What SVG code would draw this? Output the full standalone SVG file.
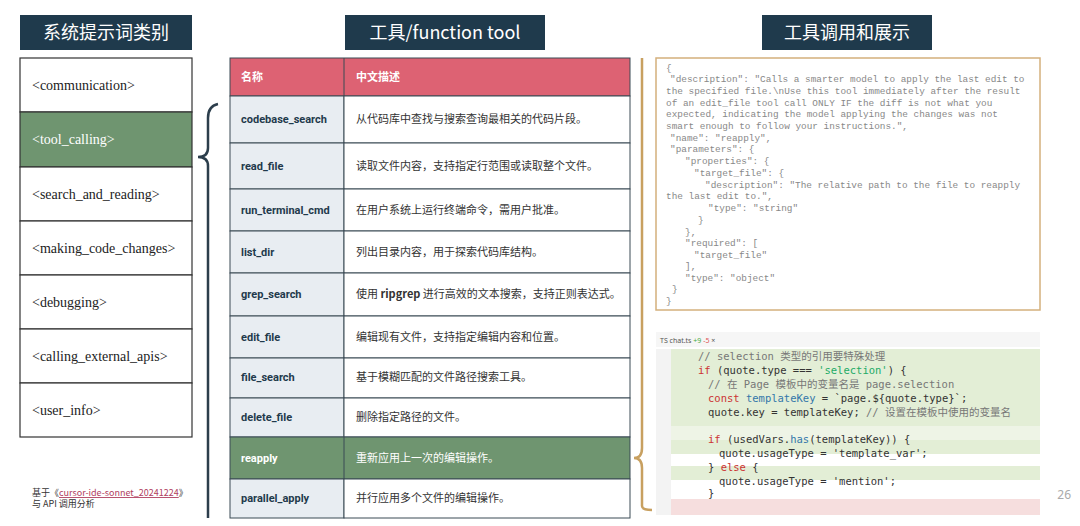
<svg xmlns="http://www.w3.org/2000/svg" width="1080" height="526" viewBox="0 0 1080 526">
<style>
.title{fill:#1f3a4c}
.tt{font-family:"Noto Sans CJK SC","Noto Sans",sans-serif;font-size:18px;fill:#fff;text-anchor:middle}
.cat{fill:#fff;stroke:#333;stroke-width:1.2}
.ct{font-family:"Liberation Serif",serif;font-size:14px;fill:#222}
.nm{font-family:Roboto,"Noto Sans",sans-serif;font-weight:bold;font-size:11px;fill:#1f3a4c}
.ds{font-family:"Noto Sans CJK SC",sans-serif;font-size:11px;fill:#333}
.c1{fill:#e8edf2;stroke:#3a4a55;stroke-width:1}
.c2{fill:#fff;stroke:#3a4a55;stroke-width:1}
.js{font-family:"Liberation Mono",monospace;font-size:9.4px;fill:#888}
.cd{font-family:"DejaVu Sans Mono","Noto Sans CJK SC",monospace;font-size:10.5px;fill:#333}
</style>
<rect width="1080" height="526" fill="#fff"/>
<g id="titles">
<rect class="title" x="20" y="15" width="172" height="35"/><text class="tt" x="106" y="39">系统提示词类别</text>
<rect class="title" x="345" y="15" width="200" height="35"/><text class="tt" x="445" y="39" font-family="Noto Sans">工具/function tool</text>
<rect class="title" x="762" y="15" width="170" height="35"/><text class="tt" x="847" y="39">工具调用和展示</text>
</g>
<g id="categories">
<rect class="cat" x="20" y="58" width="172" height="54"/><text class="ct" x="32" y="90">&lt;communication&gt;</text>
<rect x="20" y="112" width="172" height="55" fill="#6f9570" stroke="#333" stroke-width="1.2"/><text class="ct" x="32" y="144" style="fill:#fff">&lt;tool_calling&gt;</text>
<rect class="cat" x="20" y="167" width="172" height="54"/><text class="ct" x="32" y="199">&lt;search_and_reading&gt;</text>
<rect class="cat" x="20" y="221" width="172" height="54"/><text class="ct" x="32" y="253">&lt;making_code_changes&gt;</text>
<rect class="cat" x="20" y="275" width="172" height="54"/><text class="ct" x="32" y="307">&lt;debugging&gt;</text>
<rect class="cat" x="20" y="329" width="172" height="54"/><text class="ct" x="32" y="361">&lt;calling_external_apis&gt;</text>
<rect class="cat" x="20" y="383" width="172" height="54"/><text class="ct" x="32" y="415">&lt;user_info&gt;</text>
</g>
<g id="note" font-family="Noto Sans CJK SC,sans-serif" font-size="9px" fill="#333">
<text x="32" y="496">基于《<tspan fill="#b04060" text-decoration="underline">cursor-ide-sonnet_20241224</tspan>》</text>
<text x="32" y="507">与 API 调用分析</text>
</g>
<g id="table">
<rect x="230" y="58" width="400" height="38" fill="#dd6273" stroke="#3a4a55"/>
<line x1="344" y1="58" x2="344" y2="96" stroke="#3a4a55"/>
<text x="241" y="81" font-family="Noto Sans CJK SC,sans-serif" font-size="11px" font-weight="bold" fill="#fff">名称</text>
<text x="356" y="81" font-family="Noto Sans CJK SC,sans-serif" font-size="11px" font-weight="bold" fill="#fff">中文描述</text>
<rect class="c1" x="230" y="96" width="114" height="47"/><rect class="c2" x="344" y="96" width="286" height="47"/>
<text class="nm" x="241" y="123">codebase_search</text><text class="ds" x="356" y="123">从代码库中查找与搜索查询最相关的代码片段。</text>
<rect class="c1" x="230" y="143" width="114" height="46"/><rect class="c2" x="344" y="143" width="286" height="46"/>
<text class="nm" x="241" y="170">read_file</text><text class="ds" x="356" y="170">读取文件内容，支持指定行范围或读取整个文件。</text>
<rect class="c1" x="230" y="189" width="114" height="42"/><rect class="c2" x="344" y="189" width="286" height="42"/>
<text class="nm" x="241" y="214">run_terminal_cmd</text><text class="ds" x="356" y="214">在用户系统上运行终端命令，需用户批准。</text>
<rect class="c1" x="230" y="231" width="114" height="42"/><rect class="c2" x="344" y="231" width="286" height="42"/>
<text class="nm" x="241" y="256">list_dir</text><text class="ds" x="356" y="256">列出目录内容，用于探索代码库结构。</text>
<rect class="c1" x="230" y="273" width="114" height="43"/><rect class="c2" x="344" y="273" width="286" height="43"/>
<text class="nm" x="241" y="298">grep_search</text><text class="ds" x="356" y="298">使用 <tspan font-weight="bold">ripgrep</tspan> 进行高效的文本搜索，支持正则表达式。</text>
<rect class="c1" x="230" y="316" width="114" height="42"/><rect class="c2" x="344" y="316" width="286" height="42"/>
<text class="nm" x="241" y="341">edit_file</text><text class="ds" x="356" y="341">编辑现有文件，支持指定编辑内容和位置。</text>
<rect class="c1" x="230" y="358" width="114" height="40"/><rect class="c2" x="344" y="358" width="286" height="40"/>
<text class="nm" x="241" y="381">file_search</text><text class="ds" x="356" y="381">基于模糊匹配的文件路径搜索工具。</text>
<rect class="c1" x="230" y="398" width="114" height="39"/><rect class="c2" x="344" y="398" width="286" height="39"/>
<text class="nm" x="241" y="421">delete_file</text><text class="ds" x="356" y="421">删除指定路径的文件。</text>
<rect x="230" y="437" width="400" height="42" fill="#6f9570" stroke="#3a4a55"/><line x1="344" y1="437" x2="344" y2="479" stroke="#3a4a55"/>
<text class="nm" x="241" y="462" style="fill:#fff">reapply</text><text class="ds" x="356" y="462" style="fill:#fff">重新应用上一次的编辑操作。</text>
<rect class="c1" x="230" y="479" width="114" height="39"/><rect class="c2" x="344" y="479" width="286" height="39"/>
<text class="nm" x="241" y="502">parallel_apply</text><text class="ds" x="356" y="502">并行应用多个文件的编辑操作。</text>
</g>
<g id="connectors" fill="none" stroke-width="2.5">
<path d="M218,104 Q208,106 208,118 L208,148 Q208,157 198,157 Q208,157 208,166 L208,518" stroke="#2c3e4c"/>
<path d="M642,58 L642,448 Q642,458 634,458 Q642,458 642,468 L642,506 Q642,510 652,510" stroke="#c8a060"/>
</g>
<g id="json">
<rect x="656" y="58" width="384" height="252" fill="#fff" stroke="#d4b07c" stroke-width="1.5"/>
<text class="js" x="666" y="71">{</text>
<text class="js" x="670" y="82">"description": "Calls a smarter model to apply the last edit to</text>
<text class="js" x="666" y="94">the specified file.\nUse this tool immediately after the result</text>
<text class="js" x="666" y="106">of an edit_file tool call ONLY IF the diff is not what you</text>
<text class="js" x="666" y="117">expected, indicating the model applying the changes was not</text>
<text class="js" x="666" y="129">smart enough to follow your instructions.",</text>
<text class="js" x="670" y="141">"name": "reapply",</text>
<text class="js" x="670" y="152">"parameters": {</text>
<text class="js" x="685" y="164">"properties": {</text>
<text class="js" x="694" y="176">"target_file": {</text>
<text class="js" x="705" y="188">"description": "The relative path to the file to reapply</text>
<text class="js" x="666" y="199">the last edit to.",</text>
<text class="js" x="708" y="211">"type": "string"</text>
<text class="js" x="698" y="223">}</text>
<text class="js" x="685" y="235">},</text>
<text class="js" x="685" y="246">"required": [</text>
<text class="js" x="694" y="258">"target_file"</text>
<text class="js" x="685" y="269">],</text>
<text class="js" x="685" y="281">"type": "object"</text>
<text class="js" x="672" y="292">}</text>
<text class="js" x="666" y="304">}</text>
</g>
<g id="code">
<rect x="656" y="332" width="384" height="183" fill="#fff"/>
<rect x="656" y="332" width="384" height="15" fill="#f6f6f6"/>
<text x="660" y="343" font-family="Noto Sans,sans-serif" font-size="7px" fill="#555">TS chat.ts <tspan fill="#4a4">+9</tspan> <tspan fill="#d55">-5</tspan> ×</text>
<rect x="671" y="349" width="369" height="77" fill="#e3eed6"/>
<rect x="671" y="426" width="369" height="14" fill="#eef4e6"/>
<rect x="671" y="440" width="369" height="14" fill="#e3eed6"/>
<rect x="671" y="454" width="369" height="12" fill="#fff"/>
<rect x="671" y="466" width="369" height="14" fill="#e3eed6"/>
<rect x="671" y="480" width="369" height="12" fill="#fff"/>
<rect x="671" y="499" width="369" height="16" fill="#f6dede"/>
<rect x="656" y="349" width="15" height="166" fill="#f3f3f3"/>
<text class="cd" x="698" y="360" style="fill:#777">// selection 类型的引用要特殊处理</text>
<text class="cd" x="698" y="374"><tspan fill="#c33">if</tspan> (quote.type === <tspan fill="#2a6">'selection'</tspan>) {</text>
<text class="cd" x="708" y="388" style="fill:#777">// 在 Page 模板中的变量名是 page.selection</text>
<text class="cd" x="708" y="402"><tspan fill="#c33">const</tspan> <tspan fill="#37a">templateKey</tspan> = `page.${quote.type}`;</text>
<text class="cd" x="708" y="416">quote.key = templateKey;  <tspan fill="#777">// 设置在模板中使用的变量名</tspan></text>
<text class="cd" x="708" y="443"><tspan fill="#c33">if</tspan> (usedVars.<tspan fill="#37a">has</tspan>(templateKey)) {</text>
<text class="cd" x="719" y="457">quote.usageType = 'template_var';</text>
<text class="cd" x="708" y="471">} <tspan fill="#c33">else</tspan> {</text>
<text class="cd" x="719" y="485">quote.usageType = 'mention';</text>
<text class="cd" x="708" y="497">}</text>
</g>
<text x="1071" y="499" font-family="Noto Sans,sans-serif" font-size="12px" fill="#aaa" text-anchor="end">26</text>
</svg>
